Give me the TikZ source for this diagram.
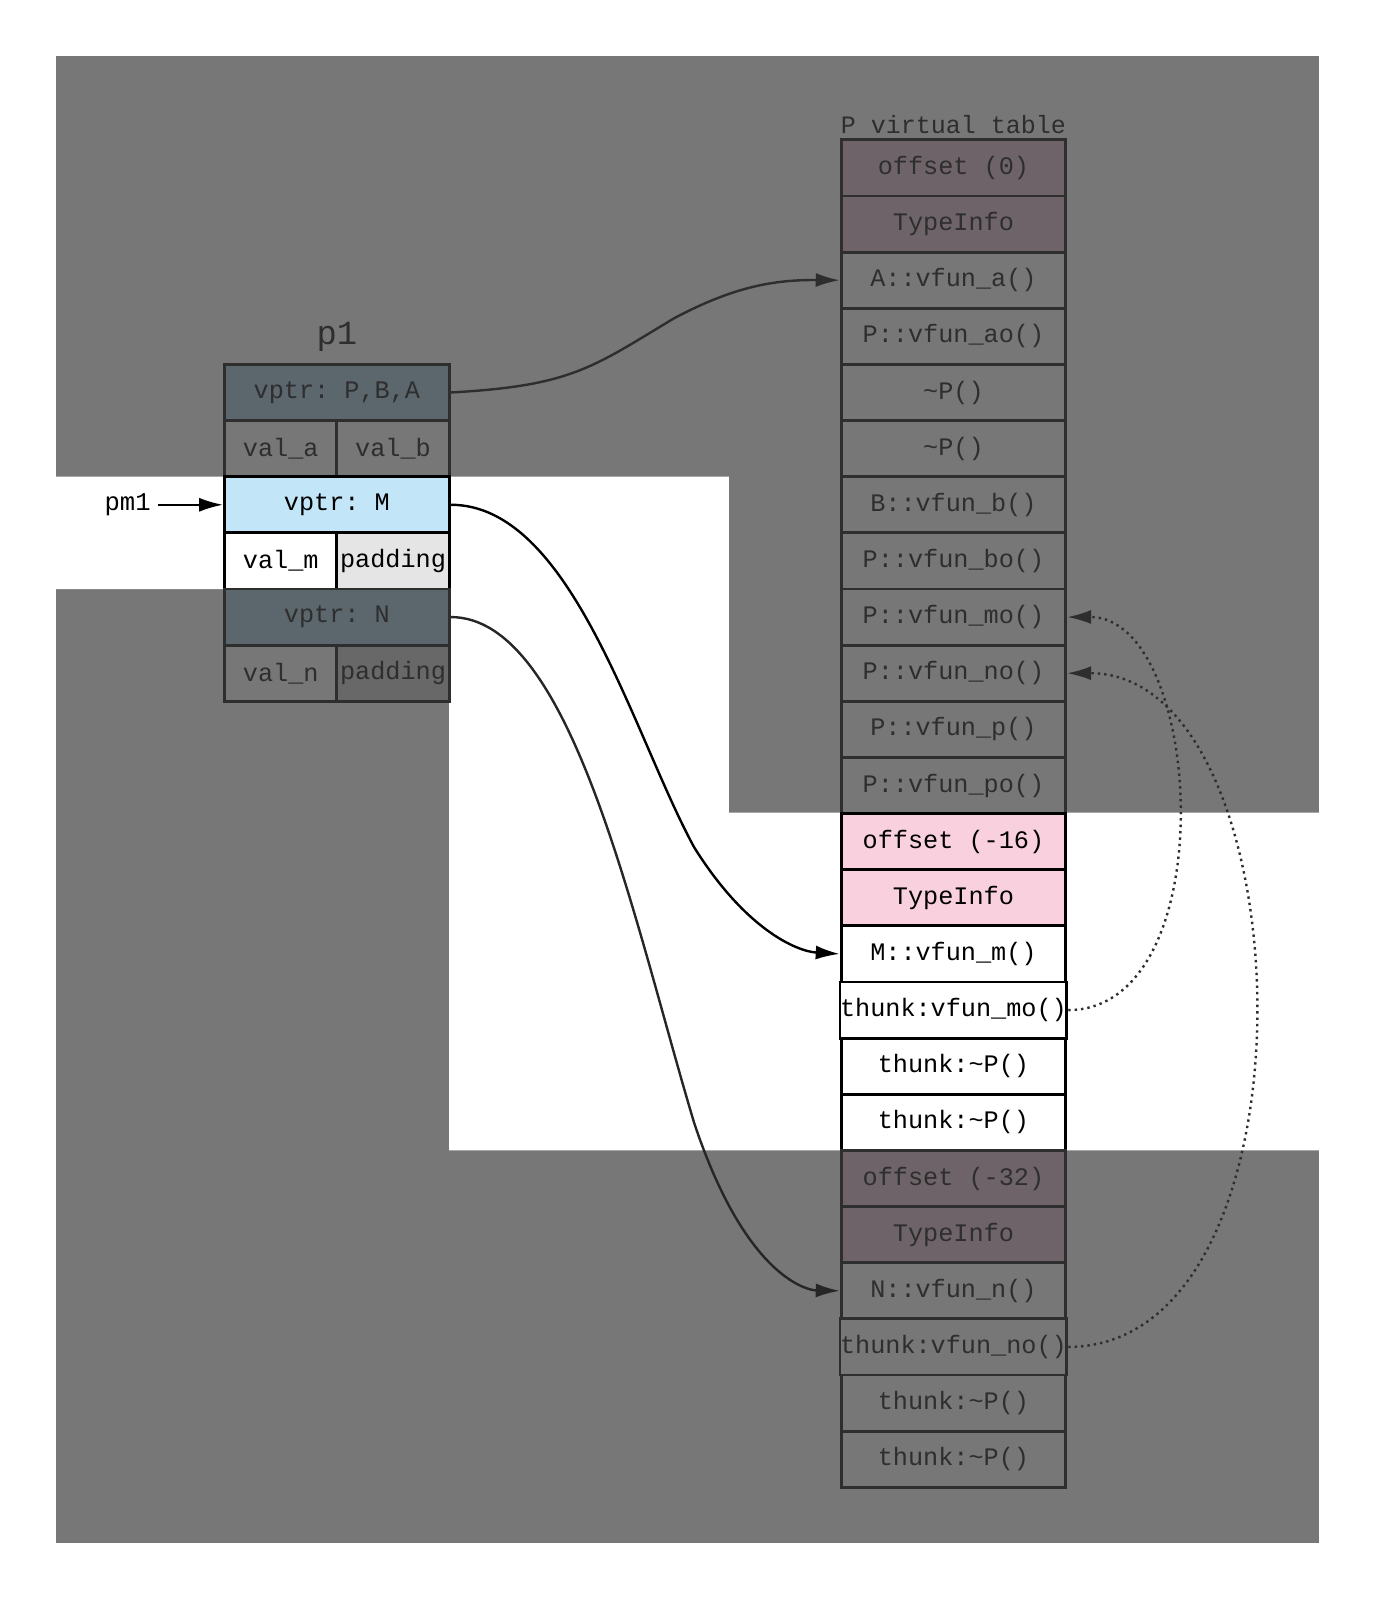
\documentclass[tikz,border=0pt]{standalone}
\usepackage{fontspec}
\setmonofont{Liberation Mono}
\usetikzlibrary{arrows.meta}
\definecolor{bg}{HTML}{777777}
\definecolor{mauve}{HTML}{6E6368}
\definecolor{slate}{HTML}{5B666D}
\definecolor{lblue}{HTML}{C2E5F7}
\definecolor{pink}{HTML}{F9D0DD}
\definecolor{lgray}{HTML}{E5E5E5}
\definecolor{dpad}{HTML}{686868}
\definecolor{dtext}{HTML}{2E2E2E}
\tikzset{
 cell/.style={draw=dtext,line width=1.4pt,minimum height=28.07pt,inner sep=0pt,font=\ttfamily\fontsize{12.6}{13}\selectfont,text=dtext,fill=bg},
 half/.style={cell,minimum width=56.14pt},
 full/.style={cell,minimum width=112.29pt},
 lit/.style={draw=black,text=black},
 arr/.style={-{Latex[length=12pt,width=7pt]},line width=1.2pt},
}
\begin{document}
\begin{tikzpicture}[x=0.5104pt,y=-0.5104pt]
\useasboundingbox (0,0) rectangle (1347,1567.4);
\fill[bg] (55,55) rectangle (1292,1512);
\fill[white] (55,467) -- (714,467) -- (714,796) -- (1292,796) -- (1292,1127) -- (440,1127) -- (440,577) -- (55,577) -- cycle;
% vtable
\node[font=\ttfamily\fontsize{12.5}{13}\selectfont,text=dtext] at (934,122) {P virtual table};
\foreach \i/\t/\c/\s in {0/offset (0)/mauve/,1/TypeInfo/mauve/,2/A::vfun\_a()/bg/,3/P::vfun\_ao()/bg/,4/\textasciitilde P()/bg/,5/\textasciitilde P()/bg/,6/B::vfun\_b()/bg/,7/P::vfun\_bo()/bg/,8/P::vfun\_mo()/bg/,9/P::vfun\_no()/bg/,10/P::vfun\_p()/bg/,11/P::vfun\_po()/bg/,12/offset (-16)/pink/lit,13/TypeInfo/pink/lit,14/M::vfun\_m()/white/lit,15/thunk:vfun\_mo()/white/lit,16/thunk:\textasciitilde P()/white/lit,17/thunk:\textasciitilde P()/white/lit,18/offset (-32)/mauve/,19/TypeInfo/mauve/,20/N::vfun\_n()/bg/,21/thunk:vfun\_no()/bg/,22/thunk:\textasciitilde P()/bg/,23/thunk:\textasciitilde P()/bg/}
  \node[full,fill=\c,\s] (v\i) at (934,164.5+55*\i) {\t};
% p1
\node[font=\ttfamily\fontsize{16.9}{17}\selectfont,text=dtext] at (330,330) {p1};
\node[full,fill=slate] (pa) at (330,384.5) {vptr: P,B,A};
\node[half] (va) at (275,439.5) {val\_a};
\node[half] (vb) at (385,439.5) {val\_b};
\node[full,fill=lblue,lit] (pm) at (330,494.5) {vptr: M};
\node[half,fill=white,lit] (vm) at (275,549.5) {val\_m};
\node[half,fill=lgray,lit] (pdm) at (385,549.5) {padding};
\node[full,fill=slate] (pn) at (330,604.5) {vptr: N};
\node[half] (vn) at (275,659.5) {val\_n};
\node[half,fill=dpad] (pdn) at (385,659.5) {padding};
\node[font=\ttfamily\fontsize{12.8}{13}\selectfont] (pm1) at (125,494.5) {pm1};
\draw[arr] (pm1) -- (pm.west);
% arrows
\draw[arr,draw=dtext] (pa.east) .. controls (560,378) and (580,360) .. (660,312) .. controls (720,280) and (760,274) .. (v2.west);
\draw[arr,draw=black] (pm.east) .. controls (560,494) and (620,720) .. (680,830) .. controls (730,910) and (780,932) .. (v14.west);
\draw[arr,draw=black!85] (pn.east) .. controls (560,604) and (620,900) .. (680,1100) .. controls (730,1250) and (790,1264) .. (v20.west);
\draw[arr,dotted,draw=dtext] (v15.east) .. controls (1200,989) and (1180,604) .. (v8.east);
\draw[arr,dotted,draw=dtext] (v21.east) .. controls (1300,1319) and (1280,659) .. (v9.east);
\end{tikzpicture}
\end{document}
